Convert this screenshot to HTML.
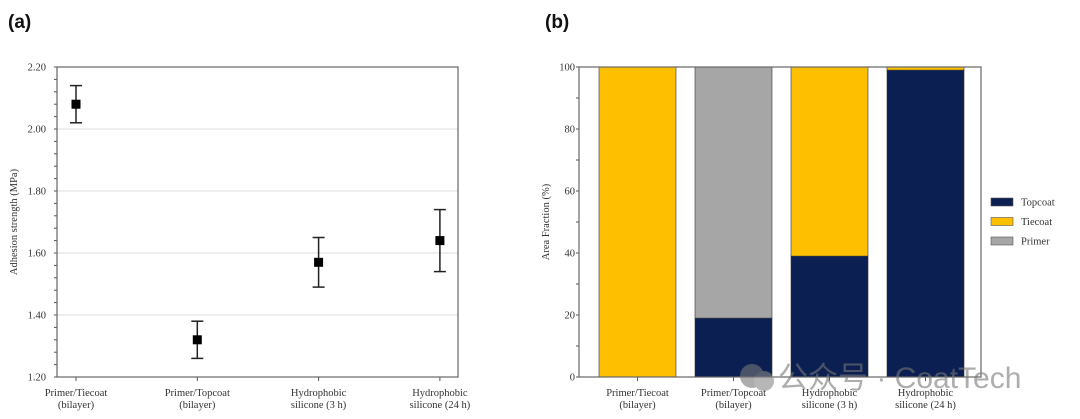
<!DOCTYPE html>
<html><head><meta charset="utf-8"><style>
html,body{margin:0;padding:0;background:#fff;width:1080px;height:419px;overflow:hidden}
svg text{font-family:"Liberation Serif",serif;fill:#333}
</style></head><body>
<svg id="chart" width="1080" height="419" xmlns="http://www.w3.org/2000/svg">
<text x="8" y="28" style="font-family:'Liberation Sans',sans-serif;font-weight:bold;font-size:19px;fill:#111">(a)</text>
<text x="545" y="28" style="font-family:'Liberation Sans',sans-serif;font-weight:bold;font-size:19px;fill:#111">(b)</text>
<g id="pa"></g>
<g id="pb"></g>
<g opacity="0.6">
<circle cx="752" cy="376" r="12" fill="#777"/>
<circle cx="764" cy="381" r="10" fill="#888"/>
<text x="778" y="388" style="font-family:'Liberation Sans','Noto Sans CJK SC',sans-serif;font-size:30px;fill:#777">公众号 · CoatTech</text>
</g>
</svg>
<script>
const catsA=[["Primer/Tiecoat","(bilayer)"],["Primer/Topcoat","(bilayer)"],["Hydrophobic","silicone (3 h)"],["Hydrophobic","silicone (24 h)"]];
const meansA=[2.08,1.32,1.57,1.64];
const errA=[0.06,0.06,0.08,0.10];
const ticksA=[1.20,1.40,1.60,1.80,2.00,2.20];
const catsB=catsA;
const topcoat=[0,19,39,99];
const tiecoat=[100,0,61,1];
const primer=[0,81,0,0];
const ticksB=[0,20,40,60,80,100];
const NS="http://www.w3.org/2000/svg";
function el(p,t,a){const e=document.createElementNS(NS,t);for(const k in a)e.setAttribute(k,a[k]);p.appendChild(e);return e;}
// Panel A
const pa=document.getElementById('pa');
const ax={l:57,r:458,t:67,b:377};
const yA=v=>ax.b-(v-1.2)/(1.0)*(ax.b-ax.t);
const xA=i=>76+i*121.3;
ticksA.forEach(t=>{
 if(t>1.21&&t<2.19){const g=el(pa,'line',{x1:ax.l,x2:ax.r,y1:yA(t),y2:yA(t),stroke:'#ddd','stroke-width':1});
 }
 const tx=el(pa,'text',{x:46,y:yA(t)+3.5,'text-anchor':'end','font-size':'10.5'});tx.textContent=t.toFixed(2);
 
});
for(let v=1.2;v<=2.2001;v+=0.04){el(pa,'line',{x1:ax.l-3,x2:ax.l,y1:yA(v),y2:yA(v),stroke:'#555','stroke-width':1});}
const fr=el(pa,'rect',{x:ax.l,y:ax.t,width:ax.r-ax.l,height:ax.b-ax.t,fill:'none',stroke:'#666','stroke-width':1.2});

meansA.forEach((m,i)=>{
 const x=xA(i);
 const g=el(pa,'g',{});
 el(g,'line',{x1:x,x2:x,y1:yA(m+errA[i]),y2:yA(m-errA[i]),stroke:'#222','stroke-width':1.5});
 el(g,'line',{x1:x-6,x2:x+6,y1:yA(m+errA[i]),y2:yA(m+errA[i]),stroke:'#222','stroke-width':1.5});
 el(g,'line',{x1:x-6,x2:x+6,y1:yA(m-errA[i]),y2:yA(m-errA[i]),stroke:'#222','stroke-width':1.5});
 el(g,'rect',{x:x-4.5,y:yA(m)-4.5,width:9,height:9,fill:'#000'});
 el(pa,'line',{x1:x,x2:x,y1:ax.b,y2:ax.b+4,stroke:'#555'});
 catsA[i].forEach((s,j)=>{const t=el(pa,'text',{x:x,y:396+j*12,'text-anchor':'middle','font-size':'10.5'});t.textContent=s;
 });
});
const ta=el(pa,'text',{transform:'translate(17,222) rotate(-90)','text-anchor':'middle','font-size':'10.5'});ta.textContent='Adhesion strength (MPa)';

// Panel B
const pb=document.getElementById('pb');
const bx={l:579,r:981,t:67,b:377};
const yB=v=>bx.b-v/100*(bx.b-bx.t);
const xB=i=>599+i*96;const bw=77;
ticksB.forEach(t=>{
 const tx=el(pb,'text',{x:575,y:yB(t)+3.5,'text-anchor':'end','font-size':'10.5'});tx.textContent=t;
 
});
for(let v=0;v<=100;v+=10){el(pb,'line',{x1:bx.l-3,x2:bx.l,y1:yB(v),y2:yB(v),stroke:'#555'});}
const series=[["topcoat",topcoat,'#0b1f52'],["tiecoat",tiecoat,'#fdbf00'],["primer",primer,'#a6a6a6']];
catsB.forEach((c,i)=>{
 let base=0;
 series.forEach(([n,vals,col])=>{
  const v=vals[i];if(v<=0)return;
  const r=el(pb,'rect',{x:xB(i),y:yB(base+v),width:bw,height:yB(base)-yB(base+v),fill:col,stroke:'#333','stroke-width':0.6});
  
  base+=v;
 });
 const x=xB(i)+bw/2;
 el(pb,'line',{x1:x,x2:x,y1:bx.b,y2:bx.b+4,stroke:'#555'});
 c.forEach((s,j)=>{const t=el(pb,'text',{x:x,y:396+j*12,'text-anchor':'middle','font-size':'10.5'});t.textContent=s;
 });
});
const fb=el(pb,'rect',{x:bx.l,y:bx.t,width:bx.r-bx.l,height:bx.b-bx.t,fill:'none',stroke:'#666','stroke-width':1.2});

const tb=el(pb,'text',{transform:'translate(549,222) rotate(-90)','text-anchor':'middle','font-size':'10.5'});tb.textContent='Area Fraction (%)';

[["Topcoat",'#0b1f52'],["Tiecoat",'#fdbf00'],["Primer",'#a6a6a6']].forEach(([n,c],k)=>{
 const g=el(pb,'g',{});
 el(g,'rect',{x:991,y:198+k*19.5,width:22,height:8,fill:c,stroke:'#555','stroke-width':0.6});
 const t=el(g,'text',{x:1021,y:205.5+k*19.5,'font-size':'10.5'});t.textContent=n;
});
</script>
</body></html>
